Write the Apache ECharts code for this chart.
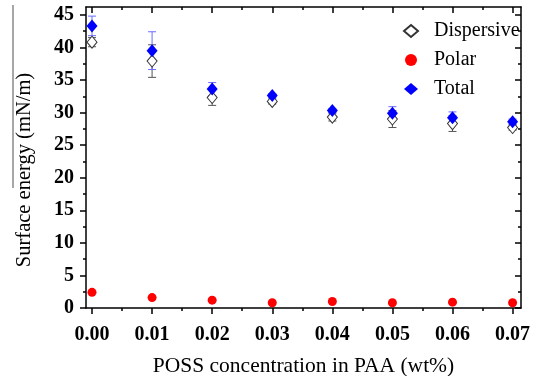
<!DOCTYPE html>
<html>
<head>
<meta charset="utf-8">
<script src="https://cdn.jsdelivr.net/npm/echarts@6/dist/echarts.min.js"></script>
<style>
  html, body { margin: 0; padding: 0; background: #fff; }
  #chart { width: 536px; height: 376px; }
</style>
</head>
<body>
<div id="chart"></div>
<script>
// POSS concentration (wt%)
const conc = [0.00, 0.01, 0.02, 0.03, 0.04, 0.05, 0.06, 0.07];
const dispersive = [40.8, 37.9, 32.3, 31.7, 29.3, 29.0, 28.3, 27.7];
const dispersiveErr = [0.7, 2.5, 1.2, 0.4, 0.6, 1.3, 1.2, 0.4];
const polar = [2.4, 1.6, 1.2, 0.8, 1.0, 0.8, 0.9, 0.8];
const total = [43.3, 39.5, 33.6, 32.6, 30.3, 29.9, 29.2, 28.6];
const totalErr = [1.5, 2.9, 1.0, 0.3, 0.3, 1.0, 0.9, 0.4];

const xTicks = [0, 0.01, 0.02, 0.03, 0.04, 0.05, 0.06, 0.07];
const xMinorTicks = [0.005, 0.015, 0.025, 0.035, 0.045, 0.055, 0.065];
const yTicks = [0, 5, 10, 15, 20, 25, 30, 35, 40, 45];
const yMinorTicks = [2.5, 7.5, 12.5, 17.5, 22.5, 27.5, 32.5, 37.5, 42.5];

const FONT = "'Liberation Serif', 'Times New Roman', serif";
const xMin = -0.001, xMax = 0.0714;
const yMin = 0, yMax = 46.2;

const chart = echarts.init(document.getElementById('chart'));

const xAxisBase = (position, ticks, len, inside, line) => ({
  type: 'value',
  position: position,
  min: xMin,
  max: xMax,
  axisLine: { show: line, onZero: false, lineStyle: { color: '#000', width: 1.5 } },
  axisTick: { show: true, inside: inside, length: len, customValues: ticks, lineStyle: { color: '#000', width: 1.5 } },
  axisLabel: { show: false },
  splitLine: { show: false }
});

const yAxisBase = (position, ticks, len, inside, line) => ({
  type: 'value',
  position: position,
  min: yMin,
  max: yMax,
  axisLine: { show: line, onZero: false, lineStyle: { color: '#000', width: 1.5 } },
  axisTick: { show: true, inside: inside, length: len, customValues: ticks, lineStyle: { color: '#000', width: 1.5 } },
  axisLabel: { show: false },
  splitLine: { show: false }
});

const mainX = xAxisBase('bottom', xTicks, 6, false, true);
mainX.axisLabel = {
  show: true,
  customValues: xTicks,
  formatter: v => v.toFixed(2),
  fontFamily: FONT,
  fontWeight: 'bold',
  fontSize: 20,
  color: '#000',
  margin: 17
};
mainX.name = 'POSS concentration in PAA (wt%)';
mainX.nameLocation = 'middle';
mainX.nameGap = 47;
mainX.nameTextStyle = { fontFamily: FONT, fontSize: 21.5, color: '#000' };

const mainY = yAxisBase('left', yTicks, 6, false, true);
mainY.axisLabel = {
  show: true,
  customValues: yTicks,
  fontFamily: FONT,
  fontWeight: 'bold',
  fontSize: 20,
  color: '#000',
  margin: 12
};

// error bars drawn through the axes
const errorBars = (color) => (params, api) => {
  const x = api.value(0);
  const y = api.value(1);
  const e = api.value(2);
  const hi = api.coord([x, y + e]);
  const lo = api.coord([x, y - e]);
  const w = 4;
  const style = { stroke: color, lineWidth: 1 };
  return {
    type: 'group',
    children: [
      { type: 'line', shape: { x1: hi[0], y1: hi[1], x2: lo[0], y2: lo[1] }, style: style },
      { type: 'line', shape: { x1: hi[0] - w, y1: hi[1], x2: hi[0] + w, y2: hi[1] }, style: style },
      { type: 'line', shape: { x1: lo[0] - w, y1: lo[1], x2: lo[0] + w, y2: lo[1] }, style: style }
    ]
  };
};

const option = {
  backgroundColor: '#fff',
  animation: false,
  grid: { left: 86, right: 15, top: 7, bottom: 68, outerBoundsMode: 'none', containLabel: false },
  xAxis: [
    mainX,
    xAxisBase('bottom', xMinorTicks, 3, false, false),
    xAxisBase('top', xTicks, 6, true, true),
    xAxisBase('top', xMinorTicks, 3, true, false)
  ],
  yAxis: [
    mainY,
    yAxisBase('left', yMinorTicks, 3, false, false),
    yAxisBase('right', yTicks, 6, true, true),
    yAxisBase('right', yMinorTicks, 3, true, false)
  ],
  legend: {
    orient: 'vertical',
    left: 398,
    top: 16,
    itemWidth: 14,
    itemHeight: 12,
    itemGap: 9,
    data: ['Dispersive', 'Polar', 'Total'],
    textStyle: { fontFamily: FONT, fontSize: 20, color: '#000', lineHeight: 20, padding: [0, 0, 0, 11] }
  },
  graphic: [
    {
      type: 'line',
      shape: { x1: 13, y1: 5, x2: 13, y2: 188 },
      style: { stroke: '#8a8a8a', lineWidth: 1.5 }
    },
    {
      type: 'text',
      x: 25,
      y: 170,
      rotation: Math.PI / 2,
      style: {
        text: 'Surface energy (mN/m)',
        font: '20.5px ' + FONT,
        fill: '#000',
        textAlign: 'center',
        textVerticalAlign: 'middle'
      }
    }
  ],
  series: [
    {
      type: 'custom',
      name: 'dispersive-err',
      renderItem: errorBars('#555'),
      data: conc.map((c, i) => [c, dispersive[i], dispersiveErr[i]]),
      encode: { x: 0, y: 1 },
      z: 1
    },
    {
      type: 'custom',
      name: 'total-err',
      renderItem: errorBars('#6b6bff'),
      data: conc.map((c, i) => [c, total[i], totalErr[i]]),
      encode: { x: 0, y: 1 },
      z: 1
    },
    {
      type: 'scatter',
      name: 'Dispersive',
      symbol: 'diamond',
      symbolSize: [10, 12],
      itemStyle: { color: '#fff', borderColor: '#333', borderWidth: 1, opacity: 1 },
      data: conc.map((c, i) => [c, dispersive[i]]),
      z: 3
    },
    {
      type: 'scatter',
      name: 'Polar',
      symbol: 'circle',
      symbolSize: 9,
      itemStyle: { color: '#ff0000', opacity: 1 },
      data: conc.map((c, i) => [c, polar[i]]),
      z: 3
    },
    {
      type: 'scatter',
      name: 'Total',
      symbol: 'diamond',
      symbolSize: [11, 13],
      itemStyle: { color: '#0000ff', opacity: 1 },
      data: conc.map((c, i) => [c, total[i]]),
      z: 4
    }
  ]
};

chart.setOption(option);
</script>
</body>
</html>
